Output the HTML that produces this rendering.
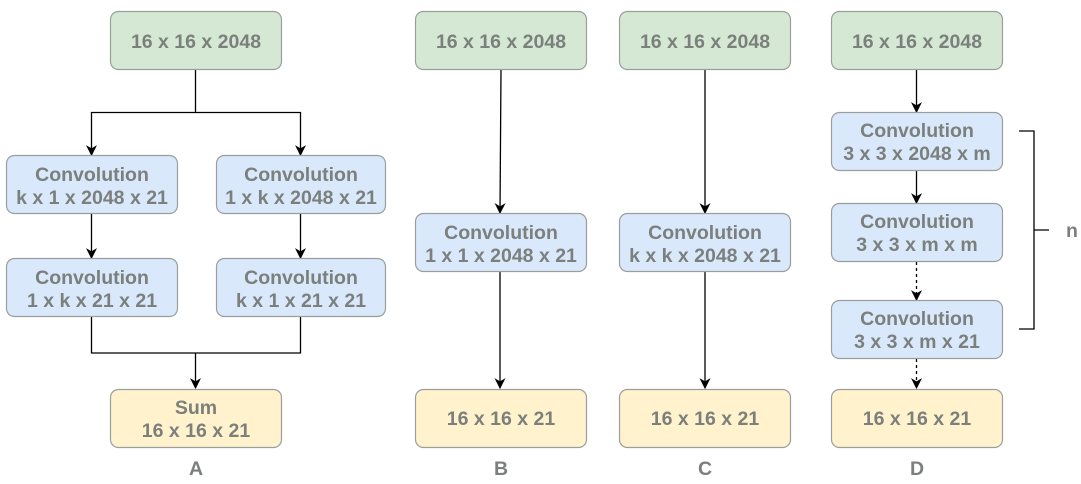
<!DOCTYPE html>
<html><head><meta charset="utf-8"><style>
html,body{margin:0;padding:0;background:#fff;width:1081px;height:484px;overflow:hidden}
svg{display:block}
text{font-family:"Liberation Sans",Arial,sans-serif;font-weight:bold;font-size:19.5px;fill:#7b807c;text-anchor:middle}
</style></head><body>
<svg width="1081" height="484" viewBox="0 0 1081 484" xmlns="http://www.w3.org/2000/svg">
<defs>
<marker id="ar" viewBox="0 0 10 10" refX="9" refY="5" markerWidth="11" markerHeight="11" markerUnits="userSpaceOnUse" orient="auto">
<path d="M0,0 L10,5 L0,10 L3,5 z" fill="#000"/></marker>
</defs>
<g stroke="#000" stroke-width="1.3" fill="none">
<path d="M195.5,69 V112.5 H91.5 V155" marker-end="url(#ar)"/>
<path d="M195.5,112.5 H300.5 V155" marker-end="url(#ar)"/>
<path d="M91.5,213 V258" marker-end="url(#ar)"/>
<path d="M300.5,213 V258" marker-end="url(#ar)"/>
<path d="M91.5,317 V353 H300.5 V317"/>
<path d="M195.5,353 V388" marker-end="url(#ar)"/>
<path d="M501,69 L500,213" marker-end="url(#ar)"/>
<path d="M500,272 V388" marker-end="url(#ar)"/>
<path d="M705,69 V213" marker-end="url(#ar)"/>
<path d="M705,272 V388" marker-end="url(#ar)"/>
<path d="M916.5,69 V112" marker-end="url(#ar)"/>
<path d="M916.5,171 V203" marker-end="url(#ar)"/>
<path d="M916.5,262 V300" stroke-dasharray="3,3" marker-end="url(#ar)"/>
<path d="M916.5,359 V388" stroke-dasharray="3,3" marker-end="url(#ar)"/>
<path d="M1019,131 H1034 V329 H1019 M1034,230 H1049"/>
</g>
<g stroke="#9a9e9c" stroke-width="1.2">
<rect x="110.5" y="11.5" width="171" height="58" rx="8" fill="#d5e8d4"/>
<rect x="415.5" y="11.5" width="171" height="58" rx="8" fill="#d5e8d4"/>
<rect x="619.5" y="11.5" width="171" height="58" rx="8" fill="#d5e8d4"/>
<rect x="831.5" y="11.5" width="171" height="58" rx="8" fill="#d5e8d4"/>
<rect x="6.5" y="155.5" width="171" height="58" rx="8" fill="#dae8fc"/>
<rect x="216.5" y="155.5" width="169" height="58" rx="8" fill="#dae8fc"/>
<rect x="6.5" y="258.5" width="171" height="58" rx="8" fill="#dae8fc"/>
<rect x="216.5" y="258.5" width="169" height="58" rx="8" fill="#dae8fc"/>
<rect x="415.5" y="213.5" width="171" height="58" rx="8" fill="#dae8fc"/>
<rect x="619.5" y="213.5" width="171" height="58" rx="8" fill="#dae8fc"/>
<rect x="831.5" y="112.5" width="171" height="58" rx="8" fill="#dae8fc"/>
<rect x="831.5" y="203.5" width="171" height="58" rx="8" fill="#dae8fc"/>
<rect x="831.5" y="300.5" width="171" height="58" rx="8" fill="#dae8fc"/>
<rect x="110.5" y="389.5" width="171" height="58" rx="8" fill="#fff2cc"/>
<rect x="415.5" y="389.5" width="171" height="58" rx="8" fill="#fff2cc"/>
<rect x="619.5" y="389.5" width="171" height="58" rx="8" fill="#fff2cc"/>
<rect x="831.5" y="389.5" width="171" height="58" rx="8" fill="#fff2cc"/>
</g>
<text x="196" y="48">16 x 16 x 2048</text>
<text x="501" y="48">16 x 16 x 2048</text>
<text x="705" y="48">16 x 16 x 2048</text>
<text x="917" y="48">16 x 16 x 2048</text>
<text x="92" y="181">Convolution</text><text x="92" y="204">k x 1 x 2048 x 21</text>
<text x="301" y="181">Convolution</text><text x="301" y="204">1 x k x 2048 x 21</text>
<text x="92" y="284">Convolution</text><text x="92" y="307">1 x k x 21 x 21</text>
<text x="301" y="284">Convolution</text><text x="301" y="307">k x 1 x 21 x 21</text>
<text x="501" y="239">Convolution</text><text x="501" y="262">1 x 1 x 2048 x 21</text>
<text x="705" y="239">Convolution</text><text x="705" y="262">k x k x 2048 x 21</text>
<text x="917" y="137">Convolution</text><text x="917" y="160">3 x 3 x 2048 x m</text>
<text x="917" y="228">Convolution</text><text x="917" y="251">3 x 3 x m x m</text>
<text x="917" y="325">Convolution</text><text x="917" y="348">3 x 3 x m x 21</text>
<text x="196" y="414">Sum</text><text x="196" y="437">16 x 16 x 21</text>
<text x="501" y="425">16 x 16 x 21</text>
<text x="705" y="425">16 x 16 x 21</text>
<text x="917" y="425">16 x 16 x 21</text>
<text x="196" y="475">A</text>
<text x="501" y="475">B</text>
<text x="705" y="475">C</text>
<text x="917" y="475">D</text>
<text x="1072" y="237">n</text>
</svg>
</body></html>
